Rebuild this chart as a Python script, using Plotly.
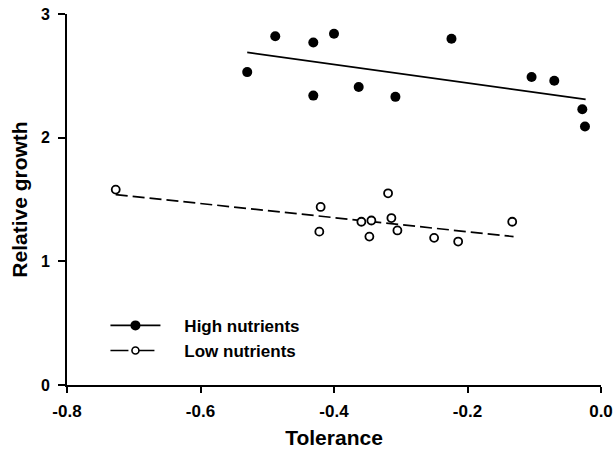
import plotly.graph_objects as go

# High nutrients data
high_x = [-0.530, -0.488, -0.431, -0.431, -0.400, -0.363, -0.308, -0.224, -0.104, -0.070, -0.028, -0.024]
high_y = [2.53, 2.82, 2.77, 2.34, 2.84, 2.41, 2.33, 2.80, 2.49, 2.46, 2.23, 2.09]
# Low nutrients data
low_x = [-0.727, -0.420, -0.422, -0.359, -0.344, -0.347, -0.319, -0.314, -0.305, -0.250, -0.214, -0.133]
low_y = [1.58, 1.44, 1.24, 1.32, 1.33, 1.20, 1.55, 1.35, 1.25, 1.19, 1.16, 1.32]
# Regression lines (endpoints)
high_fit_x = [-0.530, -0.023]
high_fit_y = [2.69, 2.31]
low_fit_x = [-0.727, -0.131]
low_fit_y = [1.54, 1.20]

series_names = ["High nutrients", "Low nutrients"]

x_ticks = [-0.8, -0.6, -0.4, -0.2, 0.0]
x_tick_labels = ["-0.8", "-0.6", "-0.4", "-0.2", "0.0"]
y_ticks = [0, 1, 2, 3]
y_tick_labels = ["0", "1", "2", "3"]

FONT = "Arial, Liberation Sans, Helvetica, sans-serif"
PAD = "\u00a0" * 4

def bold(s):
    return "<b>" + s + "</b>"

fig = go.Figure()
fig.add_trace(go.Scatter(x=high_fit_x, y=high_fit_y, mode="lines",
                         line=dict(color="black", width=1.7), showlegend=False))
fig.add_trace(go.Scatter(x=low_fit_x, y=low_fit_y, mode="lines",
                         line=dict(color="black", width=1.7, dash="12px,5px"), showlegend=False))
fig.add_trace(go.Scatter(x=high_x, y=high_y, mode="markers",
                         marker=dict(color="black", size=10, symbol="circle"), showlegend=False))
fig.add_trace(go.Scatter(x=low_x, y=low_y, mode="markers",
                         marker=dict(color="white", size=8, symbol="circle",
                                     line=dict(color="black", width=1.8)), showlegend=False))
# legend entries
fig.add_trace(go.Scatter(x=[None], y=[None], mode="lines+markers", name=PAD + bold(series_names[0]),
                         line=dict(color="black", width=1.7),
                         marker=dict(color="black", size=10)))
fig.add_trace(go.Scatter(x=[None], y=[None], mode="lines+markers", name=PAD + bold(series_names[1]),
                         line=dict(color="black", width=1.7, dash="18px,8px"),
                         marker=dict(color="white", size=7, line=dict(color="black", width=1.6))))

fig.update_layout(
    width=614, height=450,
    margin=dict(l=67, r=13, t=14, b=65),
    paper_bgcolor="white", plot_bgcolor="white",
    font=dict(family=FONT, color="black", size=17),
    showlegend=True,
    legend=dict(x=0.072, y=0.208, xanchor="left", yanchor="top",
                bgcolor="rgba(0,0,0,0)", itemwidth=50,
                font=dict(family=FONT, size=17, color="black"),
                tracegroupgap=0),
    xaxis=dict(range=[-0.8, 0.0], tickvals=x_ticks, ticktext=[bold(t) for t in x_tick_labels],
               showgrid=False, zeroline=False, showline=True, linecolor="black", linewidth=2,
               ticks="outside", ticklen=6, tickwidth=2, tickcolor="black",
               ticklabelstandoff=4, automargin=False,
               tickfont=dict(family=FONT, size=17),
               title=dict(text=bold("Tolerance"), font=dict(family=FONT, size=21), standoff=10)),
    yaxis=dict(range=[0, 3], tickvals=y_ticks, ticktext=[bold(t) for t in y_tick_labels],
               showgrid=False, zeroline=False, showline=True, linecolor="black", linewidth=2,
               ticks="outside", ticklen=7, tickwidth=2, tickcolor="black",
               ticklabelstandoff=5, automargin=False,
               tickfont=dict(family=FONT, size=16),
               title=dict(text=bold("Relative growth"), font=dict(family=FONT, size=21), standoff=8)),
)

fig.write_html("out.html", config={"displayModeBar": False},
               post_script="document.body.style.margin='0';")
